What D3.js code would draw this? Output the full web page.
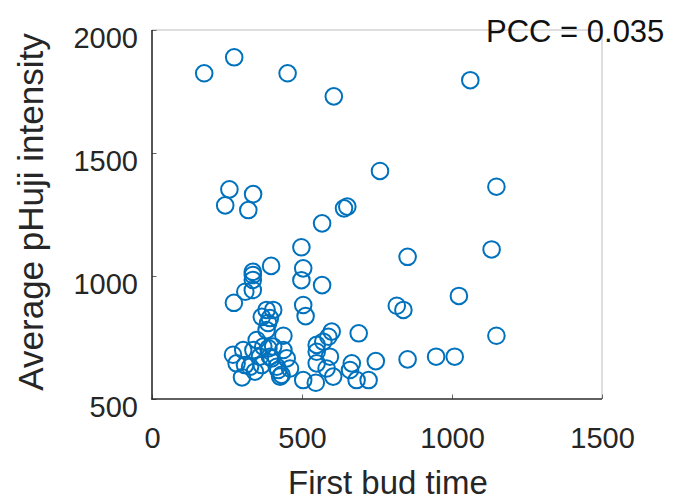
<!DOCTYPE html>
<html>
<head>
<meta charset="utf-8">
<script src="https://cdn.jsdelivr.net/npm/d3@7"></script>
<style>
  body { margin: 0; background: #fff; }
  text { font-family: "Liberation Sans", Arial, sans-serif; }
</style>
</head>
<body>
<div id="chart"></div>
<script>
const width = 687, height = 502;

// first bud time (x) and average pHuji intensity (y)
const budTime = [
  174, 274, 452, 606, 1061, 760, 1148, 258, 337, 244, 321, 640, 651, 567,
  498, 852, 1132, 397, 336, 336, 336, 504, 498, 567, 311, 336, 273, 504,
  512, 816, 838, 1023, 1148, 689, 382, 404, 366, 393, 387, 438, 599, 588,
  571, 549, 549, 852, 947, 1009, 746, 722, 682, 666, 660, 504, 546, 300,
  270, 349, 304, 338, 371, 404, 438, 360, 393, 449, 282, 327, 416, 460,
  427, 593, 549, 582, 604, 382, 388, 399, 366, 343, 421, 432, 310
];
const intensity = [
  1824, 1889, 1824, 1730, 1796, 1427, 1363, 1352, 1333, 1287, 1268, 1275, 1282, 1214,
  1117, 1078, 1108, 1041, 1017, 1004, 984, 1031, 983, 963, 936, 943, 891, 882,
  837, 879, 862, 919, 757, 767, 862, 862, 834, 829, 809, 757, 774, 753,
  733, 720, 692, 661, 672, 672, 654, 577, 577, 645, 618, 577, 566, 588,
  680, 740, 699, 699, 713, 713, 699, 672, 672, 665, 645, 631, 631, 624,
  591, 672, 645, 624, 591, 780, 706, 665, 638, 611, 618, 598, 638
];
const xTicks = [0, 500, 1000, 1500];
const yTicks = [500, 1000, 1500, 2000];
const pccText = "PCC = 0.035";

const points = budTime.map((t, i) => ({ t: t, v: intensity[i] }));

const svg = d3.select("#chart").append("svg")
    .attr("width", width)
    .attr("height", height);

const x = d3.scaleLinear().domain([0, 1500]).range([152, 602]);
const y = d3.scaleLinear().domain([500, 2000]).range([399, 30]);

// box: light top/right, dark left/bottom
svg.append("line").attr("x1", 152).attr("x2", 602).attr("y1", 30).attr("y2", 30)
    .attr("stroke", "#bdbdbd").attr("stroke-width", 1);
svg.append("line").attr("x1", 602).attr("x2", 602).attr("y1", 30).attr("y2", 399)
    .attr("stroke", "#bdbdbd").attr("stroke-width", 1);

const xAxis = svg.append("g")
    .attr("transform", "translate(0,399)")
    .call(d3.axisBottom(x).tickValues(xTicks).tickFormat(d3.format("d"))
        .tickSizeInner(-4.5).tickSizeOuter(0));
xAxis.select(".domain").remove();
xAxis.selectAll("line").attr("stroke", "#666");
xAxis.selectAll("text")
    .attr("y", 49).attr("dy", 0)
    .attr("font-size", 29).attr("fill", "#262626")
    .style("font-family", "'Liberation Sans', Arial, sans-serif");

const yAxis = svg.append("g")
    .attr("transform", "translate(152,0)")
    .call(d3.axisLeft(y).tickValues(yTicks).tickFormat(d3.format("d"))
        .tickSizeInner(-4.5).tickSizeOuter(0));
yAxis.select(".domain").remove();
yAxis.selectAll("line").attr("stroke", "#666");
yAxis.selectAll("text")
    .attr("x", -14).attr("y", 17.5).attr("dy", 0)
    .attr("font-size", 29).attr("fill", "#262626")
    .style("font-family", "'Liberation Sans', Arial, sans-serif");

svg.append("line").attr("x1", 152).attr("x2", 152).attr("y1", 30).attr("y2", 399.5)
    .attr("stroke", "#2b2b2b").attr("stroke-width", 1.6);
svg.append("line").attr("x1", 151.2).attr("x2", 602).attr("y1", 399).attr("y2", 399)
    .attr("stroke", "#2b2b2b").attr("stroke-width", 1.6);

svg.selectAll("circle.pt")
    .data(points)
    .enter().append("circle")
    .attr("class", "pt")
    .attr("cx", d => x(d.t))
    .attr("cy", d => y(d.v))
    .attr("r", 8.3)
    .attr("fill", "none")
    .attr("stroke", "#0072BD")
    .attr("stroke-width", 2);

// axis labels
svg.append("text")
    .attr("x", 388).attr("y", 494)
    .attr("text-anchor", "middle")
    .attr("font-size", 33).attr("fill", "#262626")
    .text("First bud time");

svg.append("text")
    .attr("transform", "translate(43,212) rotate(-90)")
    .attr("text-anchor", "middle")
    .attr("font-size", 35).attr("fill", "#262626")
    .text("Average pHuji intensity");

svg.append("text")
    .attr("x", 486).attr("y", 42)
    .attr("font-size", 31).attr("fill", "#111")
    .text(pccText);
</script>
</body>
</html>
